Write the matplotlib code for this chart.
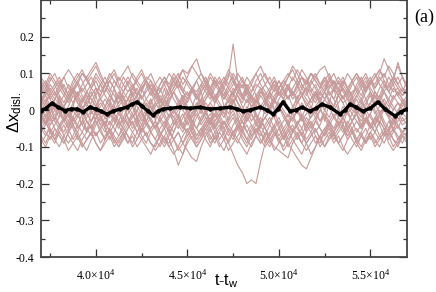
import numpy as np
import matplotlib
matplotlib.use("Agg")
import matplotlib.pyplot as plt
from matplotlib.ticker import MultipleLocator, FuncFormatter

plt.rcParams['font.family'] = ['Liberation Serif', 'DejaVu Serif']
plt.rcParams['mathtext.fontset'] = 'custom'
plt.rcParams['mathtext.rm'] = 'Liberation Serif'
plt.rcParams['mathtext.sf'] = 'Liberation Sans'
plt.rcParams['mathtext.it'] = 'Liberation Serif:italic'

# ---- data ----
# individual trajectories, sampled every 250 time units from 37000 to 57000, values in units of 0.01
t_start, t_step = 37000, 250
trace_01 = [3,5,6,4,7,9,6,5,8,10, 9,11,13,10,7,8,6,9,7,5, 6,4,7,9,8,5,6,3,5,7, 8,6,4,6,5,7,9,6,4,5, 3,6,8,5,4,2,5,7,6,4, 6,8,5,3,6,4,7,9,6,5, 3,5,7,4,6,8,5,3,5,6, 4,7,9,6,8,10,7,5,6,4, 5]
trace_02 = [-4,-6,-8,-5,-7,-9,-6,-4,-7,-10, -8,-6,-9,-11,-8,-5,-7,-9,-6,-4, -6,-8,-5,-7,-9,-10,-7,-5,-8,-11, -15,-12,-8,-6,-9,-7,-5,-8,-6,-4, -7,-9,-6,-5,-8,-10,-7,-6,-4,-7, -9,-6,-8,-10,-7,-5,-8,-6,-9,-7, -5,-8,-10,-7,-6,-9,-11,-8,-6,-5, -7,-9,-6,-8,-10,-7,-5,-8,-9,-6, -7]
trace_03 = [1,-2,0,3,2,-1,1,4,2,0, 3,5,2,-1,1,3,0,2,4,1, -1,2,4,1,3,0,-2,1,3,5, 2,0,3,6,4,1,3,5,2,4, 6,9,18,8,3,5,2,4,1,3, 0,2,5,3,1,-1,2,4,1,3, 5,2,0,3,1,4,2,-1,1,3, 0,2,4,1,3,5,2,0,2,1, 3]
trace_04 = [-2,-4,-1,-3,-5,-2,0,-3,-1,-4, -6,-3,-1,-4,-2,0,-3,-5,-2,-4, -1,-3,-6,-4,-2,-5,-3,-1,-4,-6, -3,-5,-2,-4,-7,-5,-3,-6,-4,-8, -6,-9,-12,-15,-17,-20,-19,-20,-14,-9, -6,-4,-7,-5,-3,-6,-4,-2,-5,-3, -6,-4,-1,-3,-5,-2,-4,-6,-3,-1, -4,-2,-5,-3,-1,-4,-6,-3,-2,-4, -3]
trace_05 = [6,8,5,7,9,6,4,7,9,11, 8,6,9,7,5,8,10,7,5,8, 6,9,11,8,6,4,7,9,6,8, 10,7,9,12,14,10,7,5,8,6, 4,7,9,6,8,5,3,6,8,10, 7,5,8,6,9,11,8,6,4,7, 9,7,5,8,10,7,9,6,4,6, 8,5,7,9,11,8,6,9,7,5, 8]
trace_06 = [-5,-3,-6,-8,-5,-3,-1,-4,-6,-3, -5,-7,-4,-2,-5,-8,-6,-3,-5,-7, -9,-6,-4,-7,-5,-3,-6,-8,-10,-8, -6,-9,-11,-13,-14,-10,-7,-5,-8,-6, -3,-5,-7,-4,-6,-8,-5,-3,-6,-8, -10,-7,-5,-8,-6,-4,-7,-9,-6,-4, -2,-5,-7,-4,-6,-3,-5,-8,-6,-9, -7,-5,-8,-6,-3,-5,-7,-10,-8,-6, -5]
trace_07 = [0,2,-1,1,3,0,-2,1,-1,2, 4,1,-1,-3,0,2,-1,1,3,0, -2,0,2,-1,1,-2,0,3,1,-1, 1,3,0,-2,1,-1,2,0,-3,-1, 1,-1,2,4,1,-1,1,3,0,2, 4,2,5,3,6,4,7,9,8,10, 9,11,12,9,6,4,2,3,0,-1, 1,3,0,2,-1,1,3,1,-1,0, 2]
trace_08 = [-3,-1,-4,-2,0,-3,-5,-2,-4,-1, -3,-5,-2,0,-2,-4,-1,-3,-5,-3, -1,-4,-2,0,-3,-5,-2,-4,-1,-3, -5,-2,0,-3,-1,-4,-2,-5,-3,-1, -4,-2,0,-3,-5,-2,-4,-6,-3,-5, -7,-5,-8,-6,-9,-11,-13,-15,-16,-13, -10,-7,-5,-3,-6,-4,-2,-5,-3,-6, -4,-2,-5,-3,-1,-4,-6,-3,-5,-2, -4]
trace_09 = [4,2,5,3,6,4,2,5,7,4, 2,4,6,3,5,8,6,3,5,7, 4,2,5,8,6,3,5,7,4,6, 8,5,3,6,4,7,5,3,6,8, 5,3,6,4,2,5,7,4,6,3, 5,8,6,4,7,5,3,6,8,5, 7,4,6,9,7,5,8,6,4,7, 9,6,8,7,10,14,11,8,13,9, 6]
trace_10 = [-7,-9,-6,-8,-10,-7,-5,-8,-6,-9, -11,-8,-6,-9,-7,-5,-8,-10,-7,-9, -6,-4,-7,-9,-6,-8,-10,-7,-5,-8, -6,-9,-7,-5,-8,-6,-4,-7,-9,-6, -8,-5,-7,-9,-6,-4,-7,-5,-8,-10, -8,-10,-11,-12,-13,-9,-7,-5,-8,-6, -9,-7,-10,-8,-6,-9,-7,-5,-8,-10, -7,-9,-6,-4,-7,-9,-6,-8,-10,-7, -6]
trace_11 = [5,7,4,6,8,5,3,6,4,7, 9,6,8,5,7,9,11,8,10,12, 9,7,5,8,6,4,7,9,7,10, 8,11,10,12,10,8,6,9,7,5, 8,6,4,7,9,6,8,10,7,5, 3,6,8,5,7,4,6,9,7,10, 8,6,9,7,5,8,6,4,7,9, 6,8,5,3,6,8,5,7,9,6, 4]
trace_12 = [-1,1,-2,0,2,-1,-3,0,-2,1, -1,-3,0,2,0,-2,1,-1,-3,-1, 1,-2,0,-3,-5,-3,-6,-8,-9,-6, -3,-1,-4,-2,0,-3,-1,1,-2,0, -2,1,3,0,-2,1,-1,-3,0,2, 0,-2,1,-1,-4,-2,0,-3,-1,1, -1,-3,0,2,0,-2,1,-1,-3,0, 2,0,-2,-4,-1,1,-1,-3,0,2, 0]
trace_13 = [2,4,1,3,5,7,4,2,5,3, 1,4,6,3,1,4,2,5,3,1, 4,6,3,5,7,5,2,4,6,3, 1,4,2,5,3,6,8,5,3,6, 4,2,5,7,4,6,3,1,4,2, 5,7,4,6,3,5,2,4,6,4, 2,5,3,6,8,6,3,5,2,4, 6,3,5,2,4,7,5,3,5,3, 2]
trace_14 = [-4,-2,-5,-7,-4,-6,-3,-5,-8,-6, -3,-5,-2,-4,-6,-3,-5,-7,-4,-2, -5,-3,-1,-4,-6,-8,-5,-3,-6,-4, -2,-4,-6,-3,-5,-7,-4,-2,-5,-3, -6,-4,-2,-5,-3,-6,-8,-5,-7,-4, -2,-5,-3,-6,-4,-2,-5,-7,-4,-6, -3,-5,-7,-5,-8,-6,-4,-7,-5,-3, -5,-2,-4,-6,-3,-5,-7,-5,-8,-6, -4]
trace_15 = [1,3,0,2,-1,1,3,5,2,0, 2,-1,1,3,1,-1,2,4,1,3, 5,3,0,2,-1,1,3,1,-2,0, 2,4,1,-1,1,3,0,2,4,2, 0,3,5,2,0,-2,1,3,1,-1, 1,3,0,2,4,1,-1,2,0,-2, 1,3,5,2,0,2,4,1,-1,1, 3,0,2,-1,1,3,1,4,2,0, 1]
trace_16 = [7,5,8,10,7,5,3,6,8,5, 7,9,6,4,7,5,8,6,3,5, 7,4,6,8,10,7,5,8,6,9, 7,5,3,6,8,5,7,10,8,6, 8,11,9,6,4,7,5,8,10,7, 5,3,6,8,6,9,7,4,6,8, 10,7,9,6,8,5,3,6,8,10, 7,5,8,6,9,7,5,8,6,4, 6]
trace_17 = [-8,-10,-7,-9,-6,-8,-11,-9,-7,-10, -8,-6,-9,-11,-9,-7,-10,-8,-6,-9, -7,-10,-8,-6,-9,-11,-9,-7,-10,-12, -10,-12,-9,-7,-10,-8,-6,-9,-7,-10, -8,-11,-9,-7,-5,-8,-10,-7,-9,-6, -8,-11,-9,-7,-10,-8,-6,-9,-11,-9, -7,-10,-8,-6,-9,-7,-10,-12,-10,-8, -6,-9,-7,-10,-8,-6,-9,-11,-9,-7, -9]
trace_18 = [-2,0,-3,-1,-4,-2,0,-2,-5,-3, -1,-3,0,-2,-4,-1,-3,0,-2,-4, -2,0,-3,-1,1,-1,-3,-5,-2,0, -2,-4,-1,-3,-5,-2,0,-3,-1,-3, -5,-3,-1,-4,-2,0,-3,-1,-4,-2, 0,-2,-5,-3,-1,-3,0,-2,-4,-2, 0,-3,-1,-4,-2,0,-2,-4,-1,-3, -5,-3,-1,-4,-2,0,-2,-5,-3,-1, -2]
trace_19 = [9,7,10,8,6,9,11,9,7,10, 8,10,12,9,7,10,8,6,9,7, 10,8,6,8,5,7,9,7,10,8, 6,9,7,5,8,10,8,6,9,7, 9,7,10,8,6,9,7,10,12,9, 7,9,6,8,10,8,11,9,7,10, 8,6,8,10,7,9,7,5,8,10, 8,10,7,9,11,9,12,10,7,9, 7]
trace_20 = [0,-4,2,-3,4,-1,-5,1,5,-2, -6,0,4,-1,-5,2,6,0,-4,1, 5,-2,-6,-1,3,-3,2,6,1,-4, -2,3,-1,-5,1,5,0,-4,2,6, 1,-3,3,-2,-6,0,4,-1,-5,1, 5,0,-4,-8,-5,0,4,-2,-6,0, 5,1,-3,2,6,1,-4,0,4,-1, -5,1,5,0,-4,2,-2,-6,-1,3, 0]
trace_21 = [2,5,3,0,-2,1,4,6,3,1, -1,2,5,7,4,2,-1,-3,0,3, 1,-2,-4,-1,2,4,1,-1,2,5, 3,0,-2,1,4,2,-1,-3,-5,-2, 0,3,5,2,-1,-3,0,2,5,3, 1,-2,0,3,1,-1,-4,-2,1,3, 5,3,0,-2,1,4,6,4,1,-1, -3,0,2,5,3,1,-2,-4,-1,2, 1]
trace_22 = [-6,-4,-2,-5,-7,-9,-6,-3,-1,-4, -2,0,-3,-6,-8,-5,-2,-4,-7,-5, -3,-6,-4,-1,-3,-5,-8,-10,-7,-4, -2,-5,-3,-6,-8,-6,-3,-1,-4,-2, -5,-7,-4,-2,-5,-3,-1,-4,-6,-9, -7,-4,-2,-5,-8,-6,-3,-5,-2,-4, -7,-9,-6,-3,-1,-4,-6,-3,-5,-8, -6,-3,-5,-2,-4,-7,-5,-2,-4,-6, -5]
trace_23 = [8,6,3,5,2,4,7,5,2,0, 3,6,4,7,9,6,4,2,5,3, 6,8,10,7,4,6,3,1,4,6, 9,11,8,6,3,5,7,4,2,5, 7,10,8,5,3,6,4,2,5,7, 9,6,4,7,9,12,10,7,5,8, 6,3,5,8,6,4,7,10,8,5, 3,6,8,5,3,6,9,7,4,6, 5]
trace_24 = [-1,-3,-6,-4,-2,1,-1,-4,-2,0, -3,-5,-7,-5,-3,-6,-4,-1,1,-2, -4,-2,0,-3,-1,2,0,-2,-5,-3, -1,-4,-7,-5,-2,0,-2,-4,-1,1, -1,-4,-6,-8,-10,-12,-9,-7,-4,-2, -4,-1,1,-2,-4,-6,-4,-1,-3,-5, -3,0,-2,-5,-7,-5,-2,0,-3,-1, 1,-1,-4,-2,0,-3,-5,-3,-1,-3, -2]
trace_25 = [4,6,9,7,4,2,5,8,10,8, 5,3,1,4,7,5,2,4,1,3, 6,4,1,3,5,2,0,3,5,8, 6,3,5,2,0,3,6,4,7,9, 6,4,2,5,7,4,1,3,6,4, 2,0,3,5,3,6,8,11,9,6, 4,2,5,3,1,4,6,3,1,4, 2,5,8,10,7,5,3,6,4,2, 4]
trace_26 = [-9,-7,-5,-8,-6,-4,-7,-9,-11,-8, -6,-4,-7,-5,-3,-6,-8,-10,-8,-5, -3,-6,-8,-10,-12,-9,-7,-4,-6,-8, -10,-7,-5,-8,-10,-8,-5,-3,-6,-9, -11,-8,-6,-4,-7,-9,-6,-4,-2,-5, -8,-6,-9,-7,-5,-8,-10,-12,-9,-7, -5,-8,-6,-4,-7,-9,-7,-4,-6,-9, -11,-8,-6,-9,-7,-5,-8,-6,-4,-7, -8]
trace_27 = [3,1,-1,2,0,-2,-4,-2,1,3, 5,3,1,-2,-4,-1,1,4,2,0, 2,4,6,3,1,-1,1,3,0,-2, -4,-6,-3,-1,2,0,3,5,3,1, -1,1,4,2,0,3,1,-2,-4,-2, 0,3,1,-1,-3,-1,2,4,2,0, -2,0,3,5,3,0,-2,1,3,1, -1,-3,-1,2,4,2,0,3,5,3, 1]
trace_28 = [6,4,7,5,3,1,3,6,4,2, 5,7,10,8,6,4,2,4,7,9, 7,5,3,6,8,6,3,1,3,5, 7,5,8,6,4,2,4,6,8,6, 3,5,7,10,8,6,4,2,5,3, 1,4,6,8,6,3,5,7,5,2, 4,6,8,5,3,6,8,6,3,5, 7,9,6,4,2,5,7,9,12,9, 6]
trace_29 = [-5,-7,-4,-2,-4,-7,-9,-7,-4,-6, -8,-6,-3,-5,-8,-6,-9,-7,-5,-7, -10,-8,-5,-3,-6,-4,-7,-9,-6,-8, -11,-9,-6,-4,-7,-5,-8,-10,-7,-5, -3,-6,-8,-5,-3,-6,-4,-7,-9,-7, -4,-6,-8,-11,-9,-6,-4,-7,-9,-12, -10,-7,-5,-8,-6,-3,-5,-7,-5,-8, -10,-7,-4,-6,-8,-6,-3,-5,-7,-9, -6]
trace_30 = [0,2,4,2,-1,-3,-1,2,4,6, 4,1,-1,1,3,1,-2,-4,-2,1, 3,1,-1,-3,0,2,4,2,0,-2, 0,2,-1,-3,-5,-3,0,2,0,-2, 1,3,1,-1,-3,-1,1,-1,-3,-5, -3,-1,2,0,-2,1,3,5,3,1, -1,1,3,1,-2,-4,-2,0,2,0, -2,0,2,4,2,0,-2,0,2,0, 1]
traces = [trace_01, trace_02, trace_03, trace_04, trace_05, trace_06, trace_07, trace_08, trace_09, trace_10,
          trace_11, trace_12, trace_13, trace_14, trace_15, trace_16, trace_17, trace_18, trace_19, trace_20,
          trace_21, trace_22, trace_23, trace_24, trace_25, trace_26, trace_27, trace_28, trace_29, trace_30]

# average (black) curve
mean_t = [37000, 37270, 37600, 37930, 38310, 38640, 38970, 39300, 39680, 40000, 40280, 40610, 40930, 41320,
          41700, 41970, 42250, 42520, 42850, 43120, 43390, 43670, 44050, 44600, 45140, 45690, 46230, 46780,
          47330, 47710, 48040, 48420, 48970, 49350, 49680, 49950, 50220, 50610, 50930, 51260, 51700, 52030,
          52350, 52790, 53340, 53610, 53880, 54210, 54590, 54980, 55410, 55800, 56340, 56670, 57000]
mean_v = [-0.001, 0.005, 0.019, 0.008, -0.001, 0.003, 0.003, -0.005, 0.008, 0.003, -0.003, -0.011, -0.003, 0.003,
          0.008, 0.016, 0.022, 0.011, -0.003, -0.014, -0.003, 0.003, 0.005, 0.008, 0.005, 0.008, 0.003, 0.005,
          0.008, 0.003, -0.003, 0.0, 0.008, 0.0, -0.011, 0.003, 0.022, -0.003, 0.0, 0.008, -0.003, 0.005,
          0.016, 0.008, -0.011, 0.0, 0.016, 0.008, -0.003, 0.005, 0.022, 0.003, -0.016, -0.005, 0.003]

# ---- plot ----
fig = plt.figure(figsize=(4.36, 2.92), dpi=100)
ax = fig.add_axes([41/436, 1-257/292, (407-41)/436, 257/292])

for tr in traces:
    v = np.array(tr) / 100.0
    t = t_start + t_step * np.arange(len(v))
    ax.plot(t, v, color='#c79a9a', lw=0.8, zorder=1)

ax.plot(mean_t, mean_v, color='black', lw=2.4, marker='o', ms=2.2, zorder=3)

ax.set_xlim(37000, 57000)
ax.set_ylim(-0.4, 0.3)
ax.xaxis.set_major_locator(MultipleLocator(5000))
ax.xaxis.set_minor_locator(MultipleLocator(2500))
ax.yaxis.set_major_locator(MultipleLocator(0.1))
ax.yaxis.set_minor_locator(MultipleLocator(0.05))

def xfmt(x, pos):
    return r'$\mathrm{%.1f{\times}10^{4}}$' % (x / 1e4)

def yfmt(y, pos):
    if y > 0.25:
        return ''
    if abs(y) < 1e-9:
        return '0'
    return '%.1f' % y

ax.xaxis.set_major_formatter(FuncFormatter(xfmt))
ax.yaxis.set_major_formatter(FuncFormatter(yfmt))

ax.tick_params(which='both', direction='in', top=True, right=True, colors='#333333',
               labelcolor='black', labelsize=8.5, width=0.9)
ax.tick_params(which='major', length=6, pad=5)
ax.tick_params(which='minor', length=3)
ax.tick_params(axis='x', pad=8)
for s in ax.spines.values():
    s.set_color('#444444')
    s.set_linewidth(1.3)

fig.text(5/436, 1-112/292, r'$\mathsf{\Delta x_{disl.}}$', rotation=90, fontsize=12,
         ha='left', va='center')
fig.text(226/436, 1-281/292, r'$\mathsf{t\text{-}t_{w}}$', fontsize=11.5, ha='center', va='center')
fig.text(424/436, 1-17/292, '(a)', fontsize=13, ha='center', va='center')

fig.savefig('out.png', dpi=100)
